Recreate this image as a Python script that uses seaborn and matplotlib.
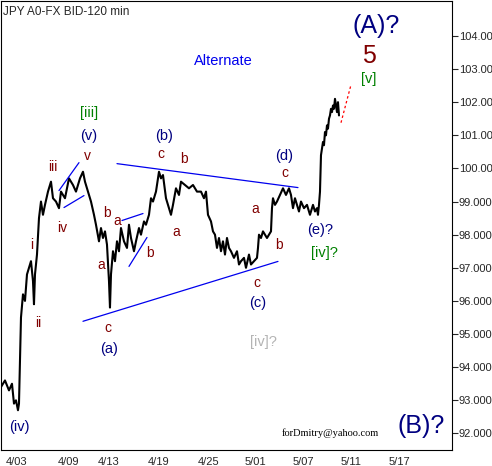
import numpy as np
import pandas as pd
import matplotlib
matplotlib.use("Agg")
import matplotlib.pyplot as plt
import seaborn as sns

# price path (bar index, price)
path = [(0, 93.4), (4, 93.6), (8, 93.3), (11, 93.5), (13, 92.9), (15, 93.0), (17, 92.7), (18, 92.9),
        (19, 94.2), (20, 95.5), (22, 96.2), (24, 96.0), (26, 96.8), (28, 97.0), (30, 97.2), (32, 96.6),
        (33, 95.9), (34, 96.8), (36, 97.4), (38, 98.5), (40, 99.0), (42, 98.6), (44, 98.9), (47, 99.3),
        (50, 99.6), (52, 99.1), (55, 99.0), (58, 98.8), (60, 99.3), (64, 99.1), (68, 99.7), (72, 99.5),
        (75, 99.3), (79, 99.7), (82, 99.9), (84, 99.6), (87, 99.3), (90, 99.0), (93, 98.6), (95, 98.3),
        (98, 97.8), (100, 98.2), (102, 97.9), (104, 98.1), (106, 97.7), (108, 96.6), (109, 95.8),
        (110, 96.8), (112, 97.5), (114, 97.2), (116, 97.8), (118, 97.5), (120, 98.2), (123, 97.8),
        (126, 97.6), (128, 98.3), (130, 97.9), (133, 97.5), (135, 97.8), (138, 98.2), (140, 98.0),
        (143, 98.4), (145, 98.3), (148, 98.6), (150, 99.1), (152, 99.0), (155, 99.3), (158, 99.9),
        (160, 99.7), (162, 99.8), (165, 99.1), (168, 98.8), (170, 98.6), (172, 98.9), (175, 99.4),
        (178, 99.2), (180, 99.6), (184, 99.5), (188, 99.4), (192, 99.5), (196, 99.3), (200, 99.3),
        (203, 99.1), (205, 99.3), (207, 98.6), (210, 98.4), (212, 98.1), (214, 98.0), (216, 97.6),
        (218, 97.9), (220, 97.5), (222, 97.8), (224, 97.4), (226, 97.9), (228, 97.6), (230, 97.5),
        (233, 97.3), (236, 97.5), (238, 97.1), (240, 97.2), (243, 97.3), (245, 97.0), (248, 97.4),
        (250, 97.1), (253, 97.2), (256, 97.3), (257, 97.6), (258, 98.0), (260, 97.9), (262, 98.1),
        (266, 97.9), (270, 98.1), (271, 98.8), (272, 99.1), (274, 98.9), (276, 99.0), (279, 99.2),
        (282, 99.4), (285, 99.2), (288, 99.4), (290, 99.2), (292, 98.8), (294, 99.1), (296, 98.9),
        (298, 98.7), (300, 99.0), (303, 98.8), (306, 98.9), (309, 98.6), (312, 98.9), (314, 98.7),
        (316, 98.8), (317, 98.6), (318, 98.9), (319, 99.3), (320, 100.4), (321, 100.6), (322, 100.8),
        (323, 100.7), (324, 101.1), (325, 101.0), (326, 101.3), (327, 101.2), (328, 101.5),
        (329, 101.6), (330, 101.8), (331, 101.7), (332, 101.9), (333, 101.8), (334, 102.1),
        (335, 101.9), (336, 101.7), (337, 102.0), (338, 101.6)]

tick_pos = [16, 68, 108, 158, 208, 254, 302, 350, 398]
tick_lab = ["4/03", "4/09", "4/13", "4/19", "4/25", "5/01", "5/07", "5/11", "5/17"]
y_ticks = [92, 93, 94, 95, 96, 97, 98, 99, 100, 101, 102, 103, 104]

# pixel -> price helper for positioning overlay items
def py(y):
    return 104 - (y - 35) / 33.2

sns.set_style("white")
plt.rcParams["font.family"] = ["Liberation Sans", "DejaVu Sans"]
fig = plt.figure(figsize=(4.92, 4.66), dpi=100)
ax = fig.add_axes([0.002, 16 / 466, 451 / 492, 449 / 466])
df = pd.DataFrame(path, columns=["x", "price"])
sns.lineplot(data=df, x="x", y="price", ax=ax, color="black", linewidth=1.5)
ax.set_xlim(0, 451)
ax.set_ylim(py(450), py(0))
ax.set_xlabel("")
ax.set_ylabel("")
ax.yaxis.tick_right()
ax.set_yticks(y_ticks)
ax.set_yticklabels(["%.3f" % v for v in y_ticks], fontsize=8)
ax.set_xticks(tick_pos)
ax.set_xticklabels(tick_lab, fontsize=8)
ax.tick_params(axis="both", length=4, width=0.8, pad=1, direction="out")
for s in ax.spines.values():
    s.set_color("black")
    s.set_linewidth(0.8)

blue = "#0000ee"
lines = [((116, 163), (297, 187)), ((82, 321), (277, 261)), ((58, 190), (78, 162)),
         ((63, 207), (83, 195)), ((121, 220), (142, 213)), ((128, 266), (146, 237))]
for (x0, y0), (x1, y1) in lines:
    ax.plot([x0, x1], [py(y0), py(y1)], color=blue, lw=0.9)
ax.plot([340, 350], [py(122), py(84)], color="red", lw=0.9, ls=(0, (2, 2)))

navy, dred, green = "#000080", "#800000", "#008000"
labels = [
    ("Alternate", 222, 60, blue, 10.5), ("(A)?", 375, 25, navy, 18), ("5", 368, 55, dred, 18),
    ("[v]", 368, 78, green, 10.5), ("[iii]", 88, 112, green, 10.5), ("(v)", 88, 135, navy, 10.5),
    ("v", 86, 155, dred, 10), ("iii", 52, 166, dred, 10), ("iv", 61, 228, dred, 10),
    ("i", 31, 245, dred, 10), ("ii", 37, 323, dred, 10), ("(iv)", 18, 427, navy, 10.5),
    ("b", 106, 212, dred, 10), ("a", 116, 220, dred, 10), ("a", 100, 265, dred, 10),
    ("b", 149, 253, dred, 10), ("c", 107, 328, dred, 10), ("(a)", 108, 349, navy, 10.5),
    ("(b)", 163, 135, navy, 10.5), ("c", 160, 153, dred, 10), ("b", 183, 158, dred, 10),
    ("a", 175, 232, dred, 10), ("a", 254, 208, dred, 10), ("c", 284, 172, dred, 10),
    ("(d)", 283, 155, navy, 10.5), ("b", 278, 245, dred, 10), ("c", 256, 283, dred, 10),
    ("(c)", 257, 303, navy, 10.5), ("(e)?", 319, 230, navy, 10.5), ("[iv]?", 323, 253, green, 10.5),
    ("[iv]?", 262, 342, "#b4b4b4", 10.5), ("(B)?", 420, 426, navy, 18),
]
for txt, x, y, c, fs in labels:
    ax.text(x, py(y), txt, color=c, fontsize=fs, ha="center", va="center")
ax.text(329, py(433), "forDmitry@yahoo.com", fontsize=7.5, family="Liberation Serif",
        ha="center", va="center", color="black")
ax.text(2, py(11), "JPY A0-FX BID-120 min", fontsize=8.5, ha="left", va="center")

fig.savefig("out.png", dpi=100)
